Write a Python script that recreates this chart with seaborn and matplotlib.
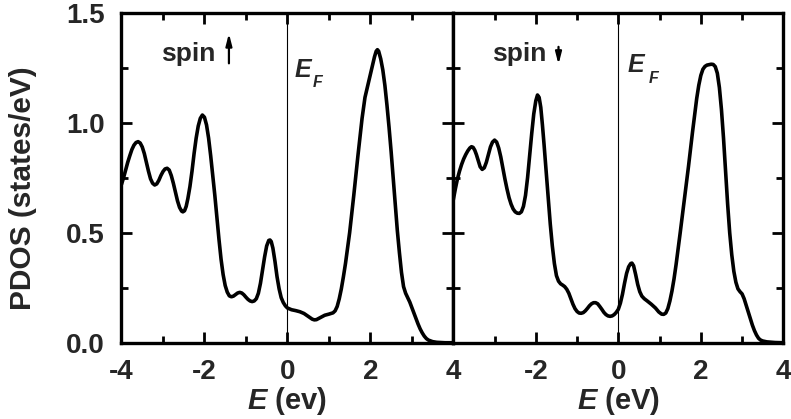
import numpy as np
import pandas as pd
import matplotlib
matplotlib.use("Agg")
import matplotlib.pyplot as plt
from matplotlib.ticker import MultipleLocator, FixedLocator, FixedFormatter
from matplotlib.font_manager import FontProperties, findfont
import matplotlib.patheffects as pe
import seaborn as sns

# ---- data ----
e_up = [-4.0, -3.95, -3.9, -3.85, -3.8, -3.75, -3.7, -3.65, -3.6, -3.55, -3.5, -3.45, -3.4, -3.35,
        -3.3, -3.25, -3.2, -3.15, -3.1, -3.05, -3.0, -2.95, -2.9, -2.85, -2.8, -2.75, -2.7, -2.65,
        -2.6, -2.55, -2.52, -2.48, -2.44, -2.4, -2.35, -2.3, -2.25, -2.2, -2.15, -2.1, -2.05, -2.0,
        -1.95, -1.9, -1.85, -1.8, -1.75, -1.7, -1.65, -1.6, -1.55, -1.5, -1.45, -1.4, -1.35, -1.3,
        -1.25, -1.2, -1.15, -1.1, -1.05, -1.0, -0.95, -0.9, -0.85, -0.8, -0.75, -0.7, -0.65, -0.6,
        -0.55, -0.5, -0.45, -0.42, -0.39, -0.35, -0.3, -0.25, -0.2, -0.15, -0.1, -0.05, 0.0, 0.1,
        0.2, 0.3, 0.4, 0.5, 0.6, 0.65, 0.7, 0.8, 0.9, 1.0, 1.1, 1.15, 1.2, 1.25, 1.3, 1.35, 1.4,
        1.5, 1.6, 1.7, 1.8, 1.87, 1.95, 2.0, 2.05, 2.1, 2.14, 2.17, 2.2, 2.25, 2.3, 2.35, 2.4, 2.45,
        2.5, 2.55, 2.6, 2.65, 2.7, 2.75, 2.8, 2.85, 2.9, 2.95, 3.0, 3.05, 3.1, 3.15, 3.2, 3.25, 3.3,
        3.35, 3.4, 3.5, 3.6, 3.8, 4.0]
pdos_up = [0.72, 0.75, 0.785, 0.82, 0.85, 0.878, 0.898, 0.91, 0.914, 0.908, 0.89, 0.86, 0.82, 0.78,
           0.745, 0.725, 0.717, 0.722, 0.738, 0.76, 0.778, 0.79, 0.793, 0.785, 0.76, 0.725, 0.685, 0.645,
           0.615, 0.598, 0.595, 0.60, 0.62, 0.655, 0.71, 0.78, 0.86, 0.93, 0.985, 1.02, 1.035, 1.025,
           0.99, 0.93, 0.85, 0.76, 0.67, 0.57, 0.47, 0.38, 0.31, 0.26, 0.23, 0.213, 0.209, 0.212,
           0.219, 0.226, 0.229, 0.226, 0.218, 0.207, 0.197, 0.19, 0.187, 0.19, 0.2, 0.225, 0.27, 0.33,
           0.39, 0.44, 0.465, 0.467, 0.46, 0.43, 0.37, 0.3, 0.245, 0.205, 0.183, 0.168, 0.158, 0.15,
           0.146, 0.141, 0.133, 0.12, 0.107, 0.104, 0.105, 0.115, 0.125, 0.13, 0.136, 0.145, 0.165, 0.2, 0.245, 0.3, 0.36,
           0.5, 0.67, 0.85, 1.02, 1.115, 1.18, 1.22, 1.26, 1.3, 1.325, 1.332, 1.325, 1.29, 1.24, 1.17, 1.08, 0.98,
           0.87, 0.75, 0.63, 0.51, 0.41, 0.32, 0.255, 0.225, 0.205, 0.185, 0.16, 0.135, 0.11, 0.085, 0.063, 0.045, 0.03,
           0.019, 0.012, 0.005, 0.002, 0.0, 0.0]

e_dn = [-4.0, -3.95, -3.9, -3.85, -3.8, -3.75, -3.7, -3.65, -3.6, -3.56, -3.52, -3.48, -3.44, -3.4,
        -3.35, -3.3, -3.25, -3.2, -3.15, -3.1, -3.05, -3.0, -2.95, -2.9, -2.85, -2.8, -2.75, -2.7,
        -2.65, -2.6, -2.55, -2.5, -2.45, -2.4, -2.35, -2.3, -2.25, -2.2, -2.15, -2.1, -2.05, -2.0,
        -1.96, -1.92, -1.88, -1.84, -1.8, -1.75, -1.7, -1.65, -1.6, -1.55, -1.5, -1.45, -1.4, -1.35,
        -1.3, -1.25, -1.2, -1.15, -1.1, -1.05, -1.0, -0.95, -0.9, -0.85, -0.8, -0.75, -0.7, -0.65,
        -0.6, -0.55, -0.5, -0.45, -0.4, -0.35, -0.3, -0.25, -0.2, -0.15, -0.1, -0.05, 0.0, 0.05,
        0.1, 0.15, 0.2, 0.25, 0.3, 0.33, 0.37, 0.42, 0.47, 0.52, 0.57, 0.63, 0.7, 0.8, 0.9, 0.98,
        1.05, 1.1, 1.15, 1.2, 1.25, 1.3, 1.35, 1.4, 1.5, 1.6, 1.7, 1.8, 1.9, 1.95, 2.0, 2.05, 2.1,
        2.15, 2.2, 2.25, 2.3, 2.35, 2.4, 2.45, 2.5, 2.55, 2.6, 2.65, 2.7, 2.75, 2.8, 2.85, 2.9, 2.95,
        3.0, 3.05, 3.1, 3.15, 3.2, 3.25, 3.3, 3.35, 3.4, 3.45, 3.5, 3.6, 3.8, 4.0]
pdos_dn = [0.65, 0.70, 0.745, 0.78, 0.81, 0.835, 0.855, 0.872, 0.885, 0.891, 0.888, 0.875, 0.855, 0.83,
           0.80, 0.788, 0.795, 0.82, 0.855, 0.89, 0.912, 0.921, 0.912, 0.885, 0.845, 0.795, 0.745, 0.70,
           0.66, 0.63, 0.608, 0.595, 0.589, 0.588, 0.595, 0.62, 0.67, 0.75, 0.85, 0.95, 1.04, 1.1,
           1.126, 1.115, 1.07, 0.99, 0.9, 0.78, 0.66, 0.54, 0.44, 0.36, 0.305, 0.28, 0.268, 0.262,
           0.255, 0.243, 0.225, 0.2, 0.175, 0.155, 0.142, 0.135, 0.134, 0.137, 0.145, 0.156, 0.168, 0.177,
           0.182, 0.182, 0.177, 0.165, 0.152, 0.138, 0.128, 0.122, 0.12, 0.122, 0.128, 0.138, 0.152, 0.18,
           0.22, 0.27, 0.315, 0.345, 0.36, 0.362, 0.35, 0.31, 0.265, 0.232, 0.212, 0.2, 0.19, 0.175, 0.158, 0.14,
           0.13, 0.129, 0.135, 0.155, 0.19, 0.235, 0.29, 0.355, 0.50, 0.65, 0.80, 0.96, 1.11, 1.17, 1.215, 1.243, 1.256,
           1.262, 1.264, 1.266, 1.265, 1.255, 1.225, 1.16, 1.06, 0.93, 0.78, 0.63, 0.50, 0.40, 0.325, 0.275, 0.245, 0.232,
           0.222, 0.2, 0.17, 0.14, 0.11, 0.08, 0.055, 0.035, 0.02, 0.012, 0.008, 0.004, 0.001, 0.0]

x_ticks = [-4, -2, 0, 2, 4]
x_labels_left = ["-4", "-2", "0", "2", "4"]
x_labels_right = ["", "-2", "0", "2", "4"]
y_ticks = [0.0, 0.5, 1.0, 1.5]
y_labels = ["0.0", "0.5", "1.0", "1.5"]

# ---- style ----
sns.set_style("ticks")
plt.rcParams["font.family"] = ["Liberation Sans", "DejaVu Sans"]
plt.rcParams["font.weight"] = "bold"
plt.rcParams["axes.unicode_minus"] = False
plt.rcParams["mathtext.fontset"] = "custom"
plt.rcParams["mathtext.it"] = "Liberation Sans:italic:bold"
plt.rcParams["mathtext.rm"] = "Liberation Sans:bold"

bi_fp = FontProperties(family="Liberation Sans", style="italic", weight="bold")
bi_path = findfont(bi_fp)
need_stroke = "bold" not in bi_path.lower()
fx = [pe.withStroke(linewidth=1.0, foreground="black")] if need_stroke else None

fig = plt.figure(figsize=(7.91, 4.19), dpi=100)
axL = fig.add_axes([0.1536, 0.182, 0.4195, 0.7876])
axR = fig.add_axes([0.5731, 0.182, 0.4172, 0.7876])

df_up = pd.DataFrame({"E": e_up, "PDOS": pdos_up})
df_dn = pd.DataFrame({"E": e_dn, "PDOS": pdos_dn})

for ax, df, xl, xunit in [(axL, df_up, x_labels_left, " (ev)"),
                          (axR, df_dn, x_labels_right, " (eV)")]:
    sns.lineplot(data=df, x="E", y="PDOS", ax=ax, color="black", lw=2.6,
                 sort=False, estimator=None)
    ax.lines[-1].set_solid_joinstyle("round")
    ax.lines[-1].set_solid_capstyle("round")
    ax.axvline(0, color="black", lw=0.8)
    ax.set_xlim(-4, 4)
    ax.set_ylim(0, 1.5)
    ax.xaxis.set_major_locator(FixedLocator(x_ticks))
    ax.xaxis.set_major_formatter(FixedFormatter(xl))
    ax.xaxis.set_minor_locator(MultipleLocator(1))
    ax.yaxis.set_major_locator(FixedLocator(y_ticks))
    ax.yaxis.set_major_formatter(FixedFormatter(y_labels))
    ax.yaxis.set_minor_locator(MultipleLocator(0.25))
    ax.tick_params(which="both", direction="in", top=True, right=True, left=True,
                   bottom=True, width=2.0, color="black")
    ax.tick_params(which="major", length=8, labelsize=20, pad=12)
    ax.tick_params(which="minor", length=5)
    for sp in ax.spines.values():
        sp.set_linewidth(2.4)
        sp.set_color("black")
        sp.set_visible(True)
    ax.set_xlabel(r"$E$" + xunit, fontsize=21, fontweight="bold", labelpad=0)
    for lab in ax.get_xticklabels() + ax.get_yticklabels():
        lab.set_fontweight("bold")

axL.set_ylabel("PDOS (states/eV)", fontsize=21.5, fontweight="bold")
axL.yaxis.set_label_coords(-0.255, 0.467)
axR.set_ylabel("")
axR.tick_params(labelleft=False)

# annotations
axL.text(-3.04, 1.28, "spin", fontsize=19, fontweight="bold", va="baseline", ha="left")
axL.annotate("", xy=(-1.41, 1.406), xytext=(-1.41, 1.27),
             arrowprops=dict(arrowstyle="-|>,head_length=0.7,head_width=0.18",
                             lw=1.6, color="black", shrinkA=0, shrinkB=0))
axL.text(0.18, 1.209, "E", fontproperties=bi_fp, fontsize=18, va="baseline", path_effects=fx)
axL.text(0.62, 1.164, "F", fontproperties=bi_fp, fontsize=11.5, va="baseline", path_effects=fx)

axR.text(-3.07, 1.28, "spin", fontsize=19, fontweight="bold", va="baseline", ha="left")
axR.annotate("", xy=(-1.45, 1.265), xytext=(-1.45, 1.345),
             arrowprops=dict(arrowstyle="-|>,head_length=0.7,head_width=0.18",
                             lw=1.6, color="black", shrinkA=0, shrinkB=0))
axR.text(0.23, 1.232, "E", fontproperties=bi_fp, fontsize=18, va="baseline", path_effects=fx)
axR.text(0.73, 1.179, "F", fontproperties=bi_fp, fontsize=11.5, va="baseline", path_effects=fx)

fig.savefig("out.png", dpi=100)
